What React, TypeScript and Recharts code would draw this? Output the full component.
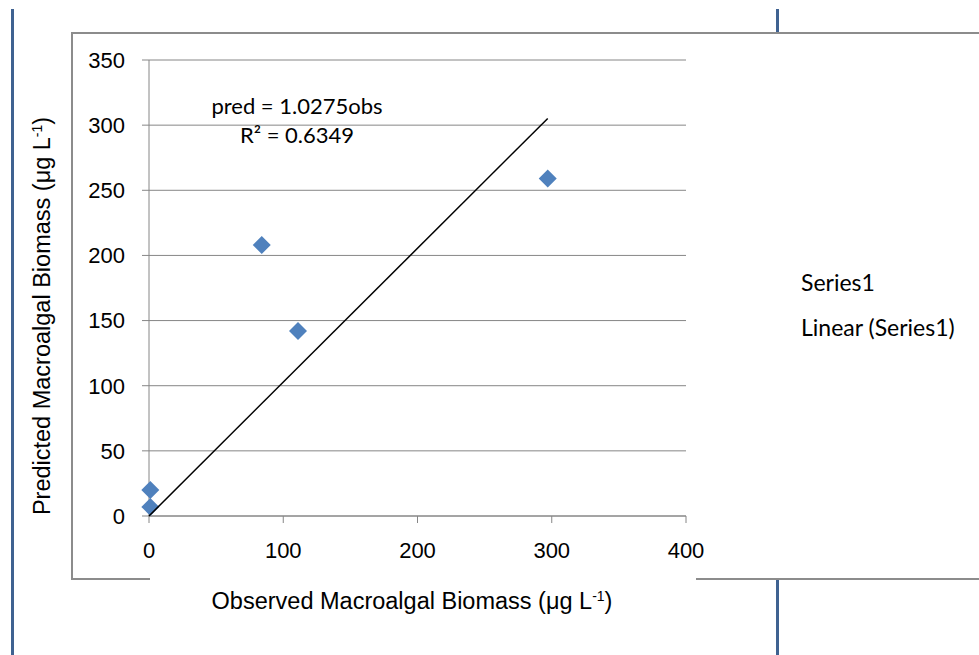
import React from 'react';
import { ScatterChart, Scatter, XAxis, YAxis, CartesianGrid, Legend, Label } from 'recharts';

// observed vs predicted macroalgal biomass
const observed = [1, 1, 84, 111, 297];
const predicted = [7, 20, 208, 142, 259];
const slope = 1.0275;
const rSquared = 0.6349;
const xTicks = [0, 100, 200, 300, 400];
const yTicks = [0, 50, 100, 150, 200, 250, 300, 350];
const seriesName = 'Series1';
const trendName = 'Linear (Series1)';
const legendOrder = [seriesName, trendName];

const points = observed.map((x, i) => ({ x, y: predicted[i] }));
const xMax = Math.max(...observed);
const trend = [
  { x: 0, y: 0 },
  { x: xMax, y: slope * xMax },
];

const BLUE = '#4F81BD';
const GRID = '#868686';
const CALIBRI = 'Lato, "Open Sans", sans-serif';
const ARIAL = '"Liberation Sans", Arial, sans-serif';

const Diamond = (props: any) => {
  const { cx, cy } = props;
  const r = 9;
  return <path d={`M${cx},${cy - r}L${cx + r},${cy}L${cx},${cy + r}L${cx - r},${cy}Z`} fill={BLUE} />;
};

const Nothing = () => <g />;

const XTitle = () => (
  <text x={412} y={609} textAnchor="middle" fontSize={23.5} fontFamily={ARIAL} fill="#000">
    Observed Macroalgal Biomass (μg L<tspan dy={-8} fontSize={14}>-1</tspan>
    <tspan dy={8}>)</tspan>
  </text>
);

const YTitle = () => (
  <text
    x={0}
    y={0}
    transform="translate(50, 316) rotate(-90)"
    textAnchor="middle"
    fontSize={23.5}
    fontFamily={ARIAL}
    fill="#000"
  >
    Predicted Macroalgal Biomass (μg L<tspan dy={-8} fontSize={14}>-1</tspan>
    <tspan dy={8}>)</tspan>
  </text>
);

const LegendText = ({ payload }: any) => {
  const items = [...(payload || [])].sort(
    (a: any, b: any) => legendOrder.indexOf(a.value) - legendOrder.indexOf(b.value)
  );
  return (
    <div style={{ fontFamily: CALIBRI, fontSize: 23, lineHeight: '45px', color: '#000' }}>
      {items.map((p: any, i: number) => (
        <div key={i}>{p.value}</div>
      ))}
    </div>
  );
};

const line = (style: React.CSSProperties) => <div style={{ position: 'absolute', ...style }} />;

export default function App() {
  return (
    <div
      style={{
        position: 'absolute',
        left: 0,
        top: 0,
        width: 979,
        height: 655,
        background: '#fff',
        fontFamily: ARIAL,
      }}
    >
      {/* outer frame bits */}
      {line({ left: 11, top: 9, width: 3, height: 646, background: '#3f6291' })}
      {line({ left: 776, top: 9, width: 3, height: 23, background: '#3f6291' })}
      {line({ left: 776, top: 580, width: 3, height: 75, background: '#3f6291' })}
      {line({ left: 71, top: 32, width: 908, height: 2, background: '#8c8c8c' })}
      {line({ left: 71, top: 32, width: 2, height: 547, background: '#8c8c8c' })}
      {line({ left: 71, top: 578, width: 79, height: 2, background: '#8c8c8c' })}
      {line({ left: 696, top: 578, width: 283, height: 2, background: '#8c8c8c' })}

      <div style={{ position: 'absolute', left: 0, top: 0 }}>
        <ScatterChart width={979} height={655} margin={{ top: 60, right: 293, bottom: 79, left: 49 }}>
          <CartesianGrid vertical={false} stroke={GRID} strokeWidth={1} />
          <XAxis
            type="number"
            dataKey="x"
            domain={[0, 400]}
            ticks={xTicks}
            height={60}
            stroke={GRID}
            tickSize={7}
            tickMargin={19}
            tick={{ fill: '#000', fontSize: 22, fontFamily: ARIAL }}
          >
            <Label content={XTitle} />
          </XAxis>
          <YAxis
            type="number"
            dataKey="y"
            domain={[0, 350]}
            ticks={yTicks}
            width={100}
            stroke={GRID}
            tickSize={7}
            tickMargin={17}
            tick={{ fill: '#000', fontSize: 22, fontFamily: ARIAL }}
          >
            <Label content={YTitle} />
          </YAxis>
          <Legend
            layout="vertical"
            align="center"
            verticalAlign="middle"
            wrapperStyle={{ left: 801, top: 260, width: 178, height: 92 }}
            content={LegendText}
          />
          <Scatter name={seriesName} data={points} shape={Diamond} isAnimationActive={false} />
          <Scatter
            name={trendName}
            data={trend}
            shape={Nothing}
            line={{ stroke: '#000', strokeWidth: 1.5 }}
            lineType="joint"
            isAnimationActive={false}
          />
        </ScatterChart>
      </div>

      <div
        style={{
          position: 'absolute',
          left: 167,
          top: 91,
          width: 260,
          textAlign: 'center',
          fontFamily: CALIBRI,
          fontSize: 22,
          lineHeight: '29px',
          color: '#000',
        }}
      >
        <div>pred = {slope}obs</div>
        <div>R² = {rSquared}</div>
      </div>
    </div>
  );
}
